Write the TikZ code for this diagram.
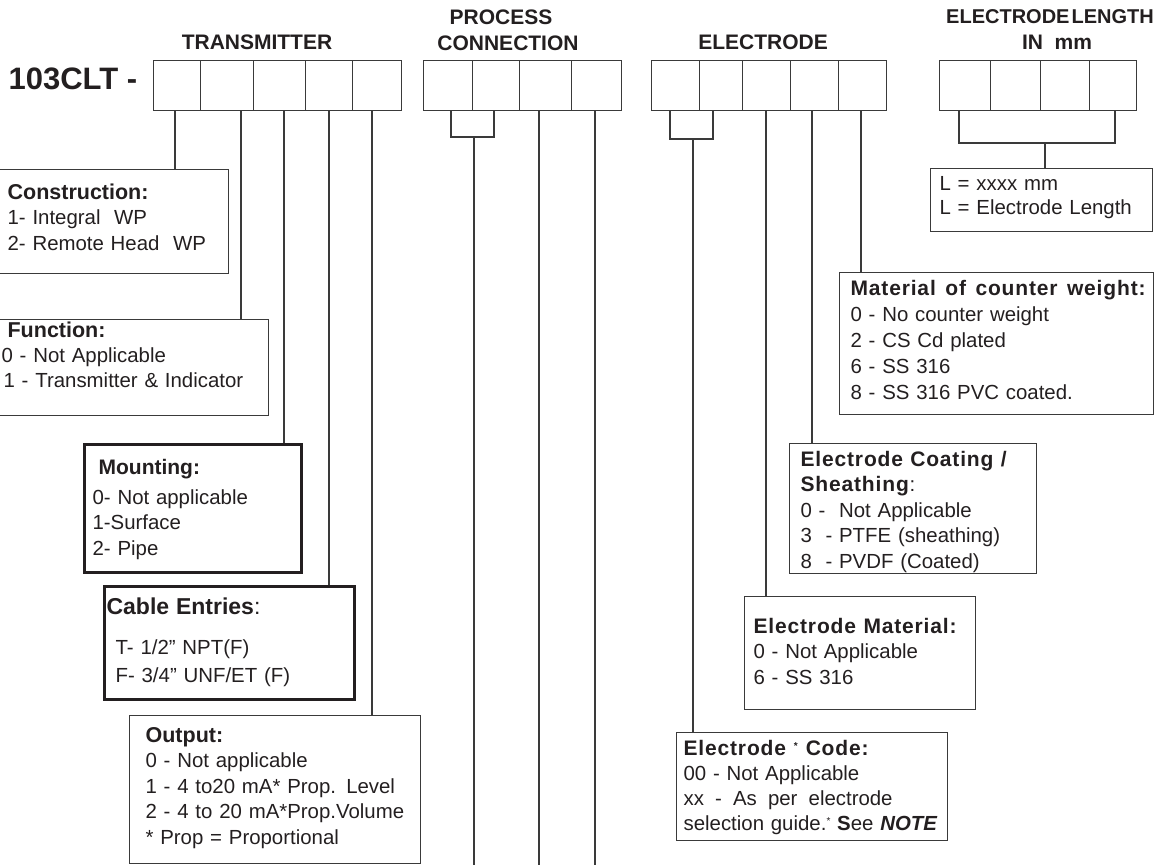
\documentclass[tikz,border=0pt]{standalone}
\usepackage{fontspec}
\setmainfont{Liberation Sans}
\newfontfamily\hdfam{Liberation Sans}[LetterSpace=4]
\definecolor{ink}{HTML}{231F20}
\definecolor{ln}{HTML}{3A3A3A}
\newcommand\spreadto[2]{\makebox[#1][l]{#2}}
\newcommand\smallstar{{\fontsize{10}{10}\selectfont\raisebox{6pt}{*}}}
\begin{document}
\begin{tikzpicture}[x=1pt,y=1pt,
  line width=1.2pt, draw=ln,
  cell/.style={draw=ln, line width=1.2pt, inner sep=0pt, anchor=north west, minimum height=50.5pt},
  dbox/.style={draw=ln, line width=1.2pt, inner sep=0pt, anchor=north west},
  thickbox/.style={dbox, line width=2.6pt, draw=ink},
  txt/.style={anchor=base west, inner sep=0pt, text width=330pt, align=left, text=ink,
    font=\fontsize{20.4}{25.5}\selectfont},
  head/.style={anchor=base, inner sep=0pt, text=ink, font=\fontsize{21}{24}\selectfont\bfseries},
  conn/.style={draw=ln, line width=1.2pt}
]
\useasboundingbox (0,0) rectangle (1165,-865);

% ---------- title & headings ----------
\node[anchor=base west, inner sep=0pt, text=ink, font=\fontsize{31}{34}\selectfont\bfseries] (title) at (8,-89) {103CLT -};
\node[head] (hT) at (257,-49) {TRANSMITTER};
\node[head] (hP1) at (501,-24) {PROCESS};
\node[head] (hP2) at (508,-50) {CONNECTION};
\node[head] (hE) at (763,-49) {ELECTRODE};
\node[head, font=\fontsize{20}{24}\selectfont\bfseries] (hL1) at (1050,-23) {ELECTRODE\hspace{2pt}LENGTH};
\node[head] (hL2) at (1057,-49) {IN\ \ mm};

% ---------- code cells ----------
\node[cell, minimum width=47pt] (t1) at (153,-59.5) {};
\node[cell, minimum width=53pt] (t2) at (200,-59.5) {};
\node[cell, minimum width=52pt] (t3) at (253,-59.5) {};
\node[cell, minimum width=47pt] (t4) at (305,-59.5) {};
\node[cell, minimum width=49pt] (t5) at (352,-59.5) {};

\node[cell, minimum width=49pt] (p1) at (423,-59.5) {};
\node[cell, minimum width=47pt] (p2) at (472,-59.5) {};
\node[cell, minimum width=52pt] (p3) at (519,-59.5) {};
\node[cell, minimum width=50pt] (p4) at (571,-59.5) {};

\node[cell, minimum width=48pt] (e1) at (651,-59.5) {};
\node[cell, minimum width=43pt] (e2) at (699,-59.5) {};
\node[cell, minimum width=48pt] (e3) at (742,-59.5) {};
\node[cell, minimum width=48pt] (e4) at (790,-59.5) {};
\node[cell, minimum width=48pt] (e5) at (838,-59.5) {};

\node[cell, minimum width=51pt] (l1) at (939,-59.5) {};
\node[cell, minimum width=50pt] (l2) at (990,-59.5) {};
\node[cell, minimum width=49pt] (l3) at (1040,-59.5) {};
\node[cell, minimum width=47pt] (l4) at (1089,-59.5) {};

% ---------- description boxes ----------
\node[dbox, minimum width=230pt, minimum height=104pt] (cons) at (-2,-169) {};
\node[dbox, minimum width=270pt, minimum height=96pt] (func) at (-2,-319) {};
\node[thickbox, minimum width=217pt, minimum height=128pt] (mount) at (83,-443) {};
\node[thickbox, minimum width=250pt, minimum height=113pt] (cable) at (103,-585) {};
\node[dbox, minimum width=291pt, minimum height=148pt] (outp) at (129,-715) {};
\node[dbox, minimum width=271pt, minimum height=108pt] (ecode) at (676,-732) {};
\node[dbox, minimum width=231pt, minimum height=113pt] (emat) at (744,-596) {};
\node[dbox, minimum width=247pt, minimum height=130pt] (ecoat) at (789,-443) {};
\node[dbox, minimum width=314pt, minimum height=142pt] (mcw) at (839,-272) {};
\node[dbox, minimum width=222pt, minimum height=63pt] (lbox) at (930,-168) {};

% ---------- connector origins ----------
\coordinate (o1) at (175,-110);
\coordinate (o2) at (241,-110);
\coordinate (o3) at (284,-110);
\coordinate (o4) at (329,-110);
\coordinate (o5) at (372,-110);
\coordinate (pa) at (451,-110);
\coordinate (pb) at (494,-110);
\coordinate (pm) at (474,-137);
\coordinate (pend) at (474,-865);
\coordinate (o7) at (539,-110);
\coordinate (o7e) at (539,-865);
\coordinate (o8) at (595,-110);
\coordinate (o8e) at (595,-865);
\coordinate (ea) at (670,-110);
\coordinate (eb) at (713,-110);
\coordinate (em) at (693,-139);
\coordinate (o10) at (766,-110);
\coordinate (o11) at (812,-110);
\coordinate (o12) at (861,-110);
\coordinate (la) at (959,-110);
\coordinate (lb) at (1115,-110);
\coordinate (lm) at (1045,-143);

% ---------- connectors ----------
\draw[conn] (o1) -- (o1 |- cons.north);
\draw[conn] (o2) -- (o2 |- func.north);
\draw[conn] (o3) -- (o3 |- mount.north);
\draw[conn] (o4) -- (o4 |- cable.north);
\draw[conn] (o5) -- (o5 |- outp.north);
\draw[conn] (pa) |- (pm) -| (pb);
\draw[conn] (pm) -- (pend);
\draw[conn] (o7) -- (o7e);
\draw[conn] (o8) -- (o8e);
\draw[conn] (ea) |- (em) -| (eb);
\draw[conn] (em) -- (em |- ecode.north);
\draw[conn] (o10) -- (o10 |- emat.north);
\draw[conn] (o11) -- (o11 |- ecoat.north);
\draw[conn] (o12) -- (o12 |- mcw.north);
\draw[conn] (la) |- (lm) -| (lb);
\draw[conn] (lm) -- (lm |- lbox.north);

% ---------- texts ----------
\node[txt] (consT) at (7,-199) {\textbf{\fontsize{21.5}{25.5}\selectfont Construction:}\\1- Integral\ \ WP\\2- Remote Head\ \ WP};
\node[txt] (funcH) at (7,-337) {\textbf{\fontsize{21.5}{25.5}\selectfont Function:}};
\node[txt] (funcT) at (1,-362) {0 - Not Applicable\\[-0.5pt]\hspace{2pt}1 - Transmitter \& Indicator};
\node[txt] (mountH) at (98,-474) {\textbf{\fontsize{21}{25.5}\selectfont Mounting:}};
\node[txt] (mountT) at (92,-504) {0- Not applicable\\1-Surface\\2- Pipe};
\node[txt] (cableH) at (106,-614) {{\fontsize{23}{26}\selectfont\textbf{Cable Entries}:}};
\node[txt, font=\fontsize{20.4}{28}\selectfont] (cableT) at (115,-654) {T- 1/2” NPT(F)\\F- 3/4” UNF/ET (F)};
\node[txt] (outT) at (145,-742) {\textbf{\fontsize{21.5}{25.5}\selectfont Output:}\\0 - Not applicable\\1 - 4 to20 mA* Prop. Level\\2 - 4 to 20 mA*Prop.Volume\\{}* Prop = Proportional};
\node[txt, font=\fontsize{20.4}{25}\selectfont] (ecodeT) at (683,-755) {\spreadto{185pt}{\hdfam\bfseries\fontsize{21}{25}\selectfont Electrode\hfill\smallstar\hfill Code:}\\00 - Not Applicable\\\spreadto{209pt}{xx\hfill-\hfill As\hfill per\hfill electrode}\\selection guide.\smallstar\ \textbf{S}ee \textbf{\textit{NOTE}}};
\node[txt, font=\fontsize{20.4}{25.5}\selectfont] (ematT) at (753,-633) {\spreadto{203pt}{\hdfam\bfseries\fontsize{21}{25}\selectfont Electrode\hfill Material:}\\0 - Not Applicable\\6 - SS 316};
\node[txt, font=\fontsize{20.4}{25.5}\selectfont] (ecoatT) at (800,-466) {\spreadto{206pt}{\hdfam\bfseries\fontsize{21}{25}\selectfont Electrode\hfill Coating\hfill /}\\\textbf{\hdfam\fontsize{21}{25}\selectfont Sheathing}:\\0 -\ \ Not Applicable\\3\ \ - PTFE (sheathing)\\8\ \ - PVDF (Coated)};
\node[txt, font=\fontsize{20.4}{26}\selectfont] (mcwT) at (850,-295) {\spreadto{295pt}{\hdfam\bfseries\fontsize{21}{25}\selectfont Material\hfill of\hfill counter\hfill weight:}\\0 - No counter weight\\2 - CS Cd plated\\6 - SS 316\\8 - SS 316 PVC coated.};
\node[txt, font=\fontsize{20.4}{24}\selectfont] (lboxT) at (939,-190) {L = xxxx mm\\L = Electrode Length};
\end{tikzpicture}
\end{document}
